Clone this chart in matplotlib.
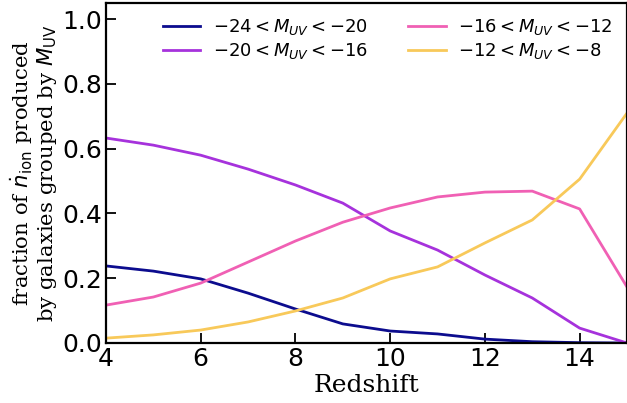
import matplotlib
matplotlib.use("Agg")
import matplotlib.pyplot as plt

redshift = [4, 5, 6, 7, 8, 9, 10, 11, 12, 13, 14, 15]
bright = [0.238, 0.222, 0.198, 0.154, 0.105, 0.059, 0.037, 0.028, 0.012, 0.004, 0.001, 0.0]
mid_bright = [0.633, 0.611, 0.580, 0.537, 0.488, 0.432, 0.346, 0.287, 0.210, 0.139, 0.046, 0.0]
mid_faint = [0.117, 0.142, 0.185, 0.250, 0.315, 0.373, 0.417, 0.451, 0.466, 0.469, 0.414, 0.173]
faint = [0.015, 0.025, 0.040, 0.065, 0.099, 0.139, 0.198, 0.235, 0.309, 0.380, 0.506, 0.710]

labels = [r"$-24 < M_{UV} < -20$", r"$-20 < M_{UV} < -16$",
          r"$-16 < M_{UV} < -12$", r"$-12 < M_{UV} < -8$"]
colors = ["#0c0c8e", "#a632dc", "#f060b4", "#f8c95a"]

fig = plt.figure(figsize=(6.27, 4.03), dpi=100)
ax = fig.add_axes([106/627, 1-343/403, 521/627, 340/403])

for ys, lab, c in zip([bright, mid_bright, mid_faint, faint], labels, colors):
    ax.plot(redshift, ys, color=c, lw=2.0, label=lab)

ax.set_xlim(4, 15)
ax.set_ylim(0, 1.05)
ax.set_xticks([4, 6, 8, 10, 12, 14])
ax.set_yticks([0.0, 0.2, 0.4, 0.6, 0.8, 1.0])
ax.tick_params(direction="in", length=7, width=1.3, labelsize=18, pad=3)
for s in ax.spines.values():
    s.set_linewidth(1.6)

ax.set_xlabel("Redshift", family="DejaVu Serif", fontsize=18, labelpad=2)
ax.set_ylabel("fraction of $\\dot{n}_{\\rm ion}$ produced\nby galaxies grouped by $M_{\\rm UV}$",
              family="DejaVu Serif", fontsize=15.3, labelpad=2, linespacing=1.0)

ax.legend(ncol=2, frameon=False, fontsize=13, loc="upper right",
          handlelength=2.1, handletextpad=0.7, columnspacing=2.2,
          borderaxespad=0.4, labelspacing=0.2)

fig.savefig("out.png", dpi=100)
